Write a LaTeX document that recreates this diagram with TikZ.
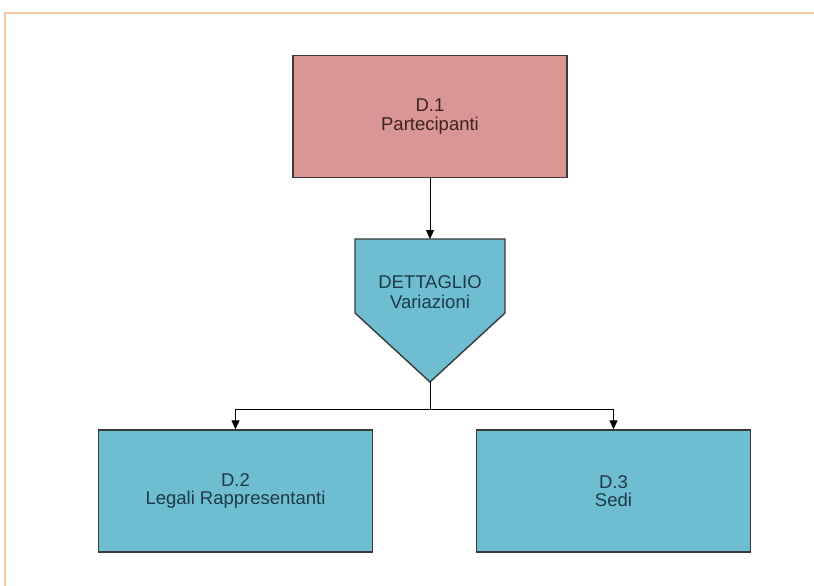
\documentclass[tikz,border=0pt]{standalone}
\usepackage{fontspec}
\setmainfont{Liberation Sans}
\usetikzlibrary{arrows.meta}

\definecolor{rosa}{HTML}{D99694}
\definecolor{azzurro}{HTML}{6EBDD1}
\definecolor{bordo}{HTML}{3A3A3A}
\definecolor{cornice}{HTML}{F3C89C}
\definecolor{testorosa}{HTML}{3E2222}
\definecolor{testoblu}{HTML}{1C3A48}

\tikzset{
  tabella/.style={draw=bordo, line width=1.4pt, minimum width=274pt,
    minimum height=122pt, align=center, font=\fontsize{18.5}{18.5}\selectfont},
  freccia/.style={-{Triangle[width=8pt,length=9pt]}, line width=1pt}
}

\begin{document}
\begin{tikzpicture}[x=1pt,y=-1pt]
    \useasboundingbox (0,0) rectangle (814,586);
    \fill[white] (0,0) rectangle (814,586);
    \draw[cornice, line width=1.2pt] (814,13) -- (5,13) -- (5,586);

    % tabelle
    \node[tabella, fill=rosa, text=testorosa] (d1) at (430,116.5) {D.1\\Partecipanti};
    \node[tabella, fill=azzurro, text=testoblu] (d2) at (235.5,491) {D.2\\Legali Rappresentanti};
    \node[tabella, fill=azzurro, text=testoblu] (d3) at (613.5,491) {D.3\\Sedi};

    % dettaglio
    \filldraw[fill=azzurro, draw=bordo, line width=1.4pt]
        (355,239) -- (505,239) -- (505,313) -- (430,382) -- (355,313) -- cycle;
    \coordinate (dtop) at (430,239);
    \coordinate (dtip) at (430,382);
    \coordinate (bivio) at (430,409);
    \node[align=center, text=testoblu, font=\fontsize{18.5}{20}\selectfont] (dett) at (430,292) {DETTAGLIO\\Variazioni};

    \draw[freccia] (d1) -- (dtop);
    \draw[line width=1pt] (dtip) -- (bivio);
    \draw[freccia] (bivio) -| (d2);
    \draw[freccia] (bivio) -| (d3);
\end{tikzpicture}
\end{document}
